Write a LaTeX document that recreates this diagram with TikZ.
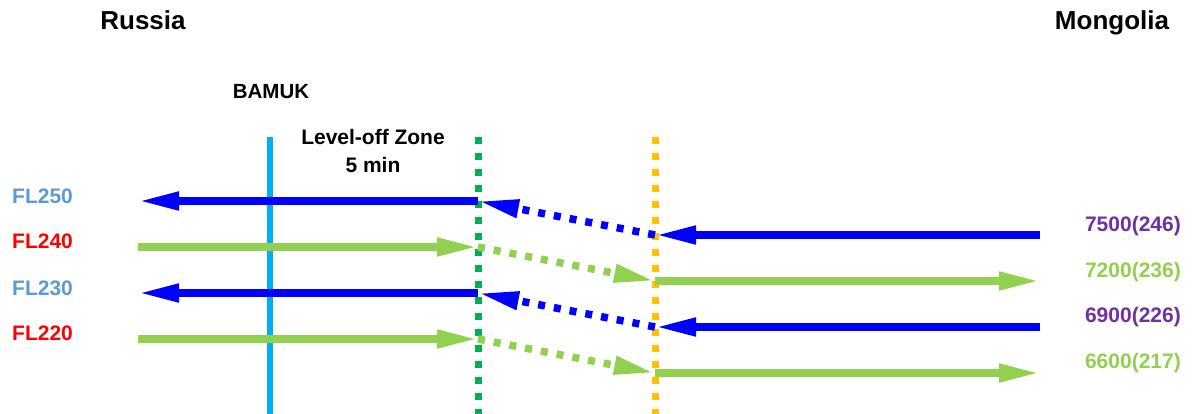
\documentclass[tikz,border=0pt]{standalone}
\usepackage{fontspec}
\setmainfont{Liberation Sans}
\usetikzlibrary{arrows.meta}
\definecolor{fblue}{HTML}{0000FF}
\definecolor{fgreen}{HTML}{92D050}
\definecolor{bamuk}{HTML}{00B0F0}
\definecolor{zgreen}{HTML}{00B050}
\definecolor{zorange}{HTML}{FFC000}
\definecolor{lblue}{HTML}{5B9BD5}
\definecolor{lred}{HTML}{FF0000}
\definecolor{lpurple}{HTML}{7030A0}
\tikzset{
  title/.style={font=\fontsize{26}{30}\selectfont\bfseries, anchor=base, inner sep=0pt},
  lbl/.style={font=\fontsize{21}{28}\selectfont\bfseries, inner sep=0pt},
  flow/.style={line width=7.5pt, -{Triangle[length=41pt,width=17pt]}},
  dflow/.style={flow, dash pattern=on 7pt off 9pt},
  vline/.style={line width=6.5pt},
  dotline/.style={line width=7pt, dash pattern=on 7pt off 9pt}
}
\begin{document}
\begin{tikzpicture}[x=1pt,y=-1pt]
\useasboundingbox (0,0) rectangle (1195,414);
% titles
\node[title] (russia) at (143,29.5) {Russia};
\node[title] (mongolia) at (1112,29.5) {Mongolia};
\node[lbl, anchor=base, font=\fontsize{20.5}{24}\selectfont\bfseries] (bamuk) at (271,99) {BAMUK};
\node[lbl, anchor=base] (zone) at (373,145) {Level-off Zone};
\node[lbl, anchor=base] (zonemin) at (373,173) {5 min};
% vertical lines
\coordinate (bt) at (270,137); \coordinate (bb) at (270,414);
\coordinate (gt) at (478,137); \coordinate (gb) at (478,414);
\coordinate (ot) at (655,137); \coordinate (ob) at (655,414);
\draw[vline, bamuk] (bt) -- (bb);
\draw[dotline, zgreen] (gt) -- (gb);
\draw[dotline, zorange] (ot) -- (ob);
% level coordinates
\coordinate (a1) at (478,201); \coordinate (a0) at (138,201);
\coordinate (b0) at (138,247); \coordinate (b1) at (478,247);
\coordinate (c1) at (478,293); \coordinate (c0) at (138,293);
\coordinate (d0) at (138,339); \coordinate (d1) at (478,339);
\coordinate (e1) at (655,235); \coordinate (e2) at (1040,235);
\coordinate (f1) at (655,281); \coordinate (f2) at (1040,281);
\coordinate (g1) at (655,327); \coordinate (g2) at (1040,327);
\coordinate (h1) at (655,373); \coordinate (h2) at (1040,373);
% left solid arrows
\draw[flow, fblue] (a1) -- (a0);
\draw[flow, fgreen] (b0) -- (b1);
\draw[flow, fblue] (c1) -- (c0);
\draw[flow, fgreen] (d0) -- (d1);
% dashed transition arrows
\draw[dflow, fblue] (e1) -- (a1);
\draw[dflow, fgreen] (b1) -- (f1);
\draw[dflow, fblue] (g1) -- (c1);
\draw[dflow, fgreen] (d1) -- (h1);
% right solid arrows
\draw[flow, fblue] (e2) -- (e1);
\draw[flow, fgreen] (f1) -- (f2);
\draw[flow, fblue] (g2) -- (g1);
\draw[flow, fgreen] (h1) -- (h2);
% left labels
\node[lbl, anchor=base west, text=lblue] (fl250) at (12,204) {FL250};
\node[lbl, anchor=base west, text=lred] (fl240) at (12,249) {FL240};
\node[lbl, anchor=base west, text=lblue] (fl230) at (12,296) {FL230};
\node[lbl, anchor=base west, text=lred] (fl220) at (12,341) {FL220};
% right labels
\node[lbl, anchor=base east, text=lpurple] (r7500) at (1181,232) {7500(246)};
\node[lbl, anchor=base east, text=fgreen] (r7200) at (1181,278) {7200(236)};
\node[lbl, anchor=base east, text=lpurple] (r6900) at (1181,323) {6900(226)};
\node[lbl, anchor=base east, text=fgreen] (r6600) at (1181,368) {6600(217)};
\end{tikzpicture}
\end{document}
